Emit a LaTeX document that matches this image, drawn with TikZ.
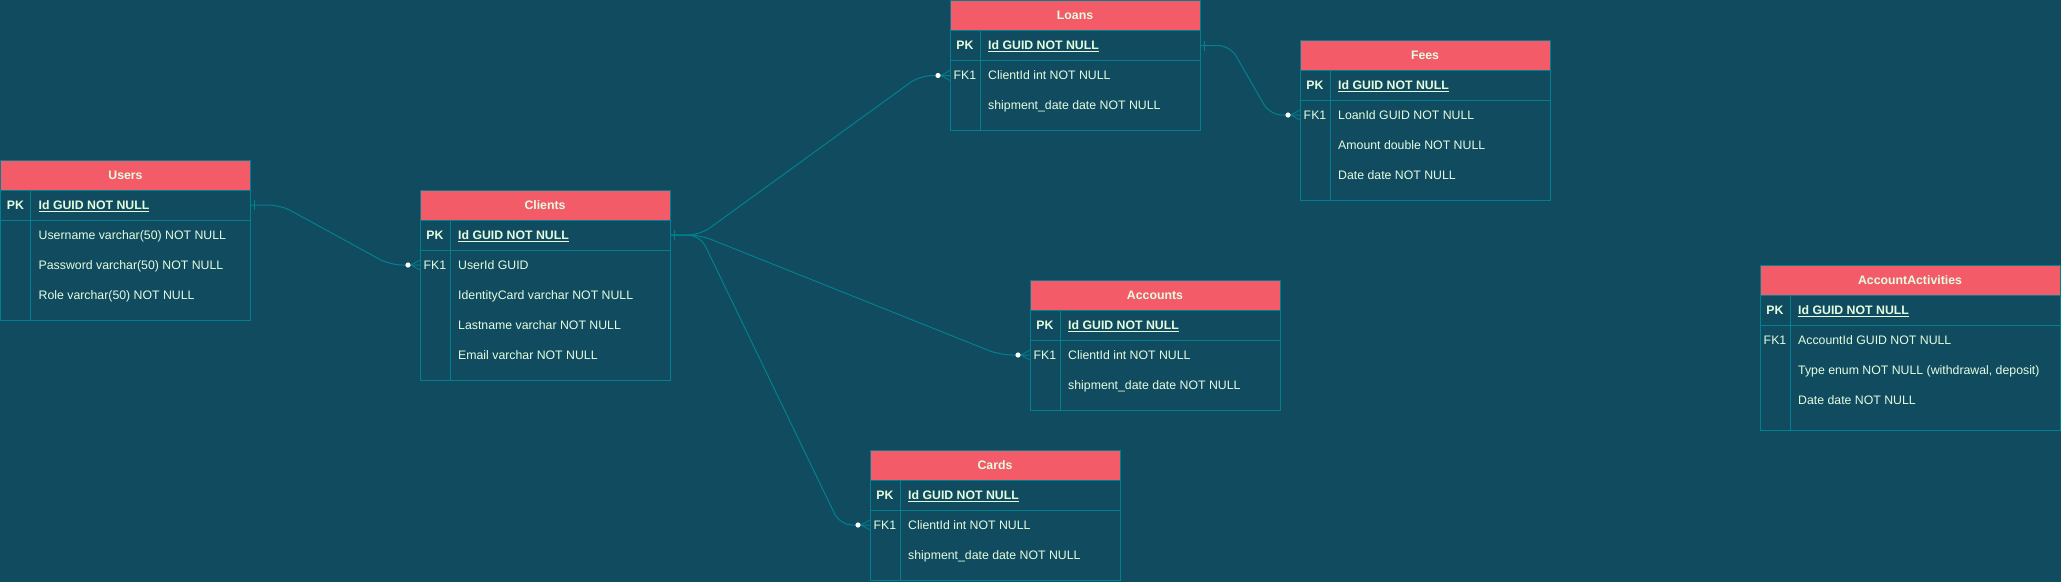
\documentclass[tikz,border=0pt]{standalone}
\usepackage{fontspec}
\setmainfont{Liberation Sans}
\usepackage{tikz}
\usetikzlibrary{calc}
\definecolor{bgteal}{HTML}{114B5F}
\definecolor{lineteal}{HTML}{028090}
\definecolor{headred}{HTML}{F45B69}
\definecolor{textpale}{HTML}{E4FDE1}
\newcommand{\erfont}{\fontsize{12.3}{14}\selectfont}
\tikzset{
  tabhead/.style={draw=lineteal, line width=1pt, fill=headred, text=textpale, font={\erfont\bfseries},
    anchor=north west, inner sep=0pt, outer sep=0pt, minimum height=30pt, text height=8.8pt, text depth=0pt},
  tabrow/.style={draw=lineteal, line width=1pt, anchor=north west, inner sep=0pt, outer sep=0pt, minimum height=30pt},
  keytxt/.style={text=textpale, inner sep=0pt, text height=8.8pt, text depth=0pt},
  fieldtxt/.style={keytxt, anchor=west},
  relation/.style={draw=lineteal, line width=1pt, rounded corners=12pt}
}
% table frame: name, x, y, width, body height, title
\newcommand{\ertable}[6]{
  \node[tabhead, minimum width=#4pt] (#1) at (#2,#3) {#6};
  \node[tabrow, minimum width=#4pt] (#1-pk) at (#1.south west) {};
  \node[tabrow, minimum width=#4pt, minimum height=#5pt] (#1-body) at (#1-pk.south west) {};
  \draw[lineteal, line width=1pt] ($(#1-pk.north west)+(30,0)$) -- ($(#1-body.south west)+(30,0)$);}
% key column: table, row, text
\newcommand{\keycell}[3]{\node[keytxt] (#1-k#2) at ($(#1-pk.north west)+(15,15+30*#2)$) {#3};}
% field column: table, row, text
\newcommand{\fieldcell}[3]{\node[fieldtxt] (#1-f#2) at ($(#1-pk.north west)+(38,15+30*#2)$) {#3};}
% relation: one side, many side
\newcommand{\relate}[2]{
  \draw[relation] (#1) -- ++(30,0) -- ($(#2)+(-30,0)$) -- (#2);
  \draw[lineteal, line width=1pt] ($(#1)+(4,-5)$) -- ($(#1)+(4,5)$);
  \draw[lineteal, line width=0.8pt] ($(#2)+(-9,0)$) -- ($(#2)+(0,-5)$) ($(#2)+(-9,0)$) -- ($(#2)+(0,5)$);
  \fill[white] ($(#2)+(-12,0)$) circle[radius=2.6pt];}
\begin{document}
\begin{tikzpicture}[x=1pt,y=-1pt,font=\erfont]
        \fill[bgteal] (0,0) rectangle (2061,582);
        \useasboundingbox (0,0) rectangle (2061,582);

        % Users
        \ertable{users}{0.5}{160}{250}{100}{Users}
        \keycell{users}{0}{\bfseries PK}
        \fieldcell{users}{0}{\bfseries\underline{Id GUID NOT NULL}}
        \fieldcell{users}{1}{Username varchar(50) NOT NULL}
        \fieldcell{users}{2}{Password varchar(50) NOT NULL}
        \fieldcell{users}{3}{Role varchar(50) NOT NULL}

        % Clients
        \ertable{clients}{420}{190}{250}{130}{Clients}
        \keycell{clients}{0}{\bfseries PK}
        \keycell{clients}{1}{FK1}
        \fieldcell{clients}{0}{\bfseries\underline{Id GUID NOT NULL}}
        \fieldcell{clients}{1}{UserId GUID}
        \fieldcell{clients}{2}{IdentityCard varchar NOT NULL}
        \fieldcell{clients}{3}{Lastname varchar NOT NULL}
        \fieldcell{clients}{4}{Email varchar NOT NULL}

        % Loans
        \ertable{loans}{950}{0.5}{250}{70}{Loans}
        \keycell{loans}{0}{\bfseries PK}
        \keycell{loans}{1}{FK1}
        \fieldcell{loans}{0}{\bfseries\underline{Id GUID NOT NULL}}
        \fieldcell{loans}{1}{ClientId int NOT NULL}
        \fieldcell{loans}{2}{shipment\_date date NOT NULL}

        % Fees
        \ertable{fees}{1300}{40}{250}{100}{Fees}
        \keycell{fees}{0}{\bfseries PK}
        \keycell{fees}{1}{FK1}
        \fieldcell{fees}{0}{\bfseries\underline{Id GUID NOT NULL}}
        \fieldcell{fees}{1}{LoanId GUID NOT NULL}
        \fieldcell{fees}{2}{Amount double NOT NULL}
        \fieldcell{fees}{3}{Date date NOT NULL}

        % Accounts
        \ertable{accounts}{1030}{280}{250}{70}{Accounts}
        \keycell{accounts}{0}{\bfseries PK}
        \keycell{accounts}{1}{FK1}
        \fieldcell{accounts}{0}{\bfseries\underline{Id GUID NOT NULL}}
        \fieldcell{accounts}{1}{ClientId int NOT NULL}
        \fieldcell{accounts}{2}{shipment\_date date NOT NULL}

        % Cards
        \ertable{cards}{870}{450}{250}{70}{Cards}
        \keycell{cards}{0}{\bfseries PK}
        \keycell{cards}{1}{FK1}
        \fieldcell{cards}{0}{\bfseries\underline{Id GUID NOT NULL}}
        \fieldcell{cards}{1}{ClientId int NOT NULL}
        \fieldcell{cards}{2}{shipment\_date date NOT NULL}

        % AccountActivities
        \ertable{activities}{1760}{265}{300}{105}{AccountActivities}
        \keycell{activities}{0}{\bfseries PK}
        \keycell{activities}{1}{FK1}
        \fieldcell{activities}{0}{\bfseries\underline{Id GUID NOT NULL}}
        \fieldcell{activities}{1}{AccountId GUID NOT NULL}
        \fieldcell{activities}{2}{Type enum NOT NULL (withdrawal, deposit)}
        \fieldcell{activities}{3}{Date date NOT NULL}

        % foreign key ends
        \coordinate (clients-fk) at (clients-body.west |- clients-f1);
        \coordinate (loans-fk) at (loans-body.west |- loans-f1);
        \coordinate (fees-fk) at (fees-body.west |- fees-f1);
        \coordinate (accounts-fk) at (accounts-body.west |- accounts-f1);
        \coordinate (cards-fk) at (cards-body.west |- cards-f1);

        % relations
        \relate{users-pk.east}{clients-fk}
        \relate{clients-pk.east}{loans-fk}
        \relate{clients-pk.east}{accounts-fk}
        \relate{clients-pk.east}{cards-fk}
        \relate{loans-pk.east}{fees-fk}
\end{tikzpicture}
\end{document}
